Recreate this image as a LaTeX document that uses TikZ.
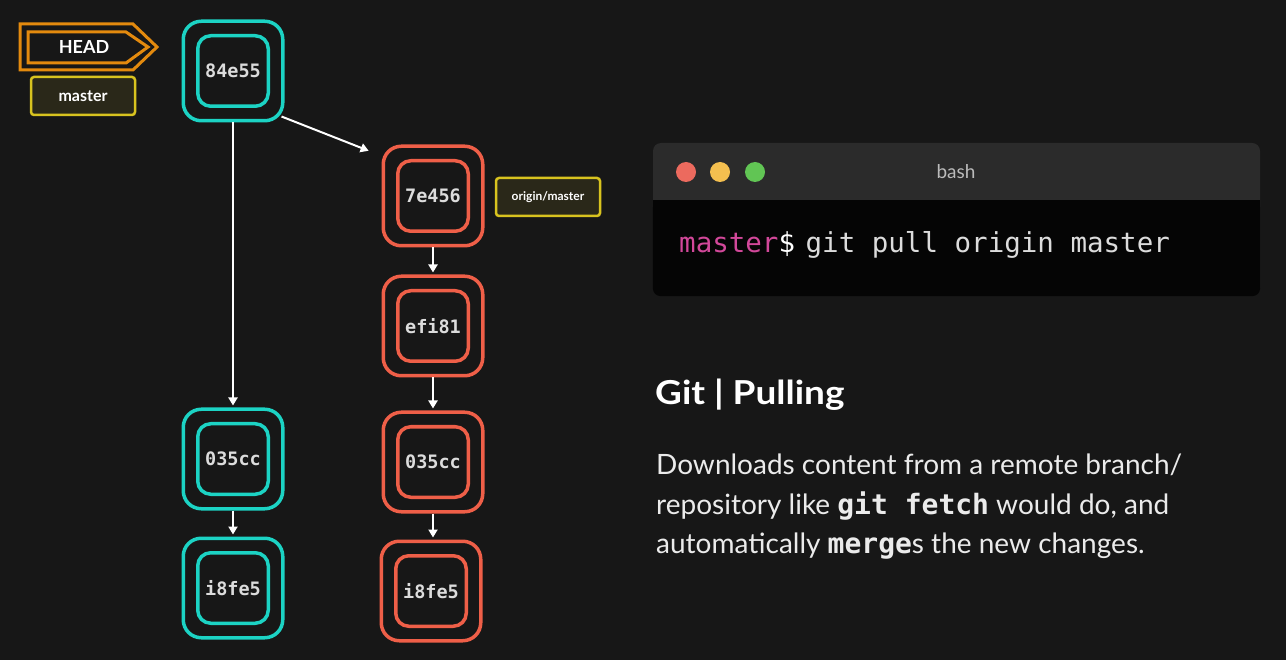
\documentclass[tikz,border=0pt]{standalone}
\usepackage{fontspec}
\usepackage{graphicx}
\setmainfont{Lato}
\setsansfont{Lato}
\setmonofont{DejaVu Sans Mono}
\usetikzlibrary{arrows.meta,calc}
\definecolor{bgc}{HTML}{171717}
\definecolor{cteal}{HTML}{1CD3C4}
\definecolor{cred}{HTML}{EF5F48}
\definecolor{corange}{HTML}{E38A0E}
\definecolor{cyellow}{HTML}{D8C31F}
\definecolor{tagfill}{HTML}{2A2819}
\definecolor{lbl}{HTML}{DCDCDC}
\definecolor{tbar}{HTML}{2B2B2B}
\definecolor{tbody}{HTML}{050505}
\definecolor{cpink}{HTML}{D2489A}
\definecolor{dred}{HTML}{EC6A5E}
\definecolor{dyel}{HTML}{F4BF4F}
\definecolor{dgrn}{HTML}{61C554}
\tikzset{
  outerbox/.style={draw, line width=3.5pt, rounded corners=18pt, minimum width=99.5pt, minimum height=99.5pt, inner sep=0pt, outer sep=1.75pt},
  innerbox/.style={draw, line width=3.5pt, rounded corners=13pt, minimum width=70.5pt, minimum height=70.5pt, inner sep=0pt, text=lbl, font=\ttfamily\bfseries\fontsize{18.5}{18.5}\selectfont},
  arr/.style={draw=white, line width=2pt, -{Triangle[width=9pt,length=8pt]}, shorten >=2pt},
  tag/.style={draw=cyellow, line width=2.5pt, fill=tagfill, rounded corners=3pt, minimum width=104pt, minimum height=38pt, inner sep=0pt, text=white, font=\sffamily\bfseries\fontsize{16}{16}\selectfont},
  dot/.style={circle, minimum size=20pt, inner sep=0pt},
  bodytxt/.style={anchor=base west, inner sep=0pt, text=white!92!black, font=\sffamily\fontsize{28}{28}\selectfont},
}
\newcommand\mkcommit[4]{%
  \node[outerbox, draw=#4] (#1) at (#2) {};
  \node[innerbox, draw=#4] (#1in) at (#2) {#3};
}
\begin{document}
\begin{tikzpicture}[x=1pt,y=-1pt]
\useasboundingbox (0,0) rectangle (1286,660);
\fill[bgc] (0,0) rectangle (1286,660);

% teal commits
\mkcommit{t1}{233,71}{84e55}{cteal}
\mkcommit{t2}{233,459}{035cc}{cteal}
\mkcommit{t3}{233,588}{i8fe5}{cteal}
% red commits
\mkcommit{r1}{433,196}{7e456}{cred}
\mkcommit{r2}{433,326}{efi81}{cred}
\mkcommit{r3}{433,462}{035cc}{cred}
\mkcommit{r4}{431,591}{i8fe5}{cred}

% arrows
\draw[arr] (t1.south) -- (t2.north);
\draw[arr] (t2.south) -- (t3.north);
\draw[arr] (r1.south) -- (r2.north);
\draw[arr] (r2.south) -- (r3.north);
\draw[arr] (r3.south) -- ($(r4.north)+(2,0)$);
\draw[arr] ($(t1.south east)+(-3,-6)$) -- ($(r1.north west)+(-11,7)$);

% HEAD
\node[text=white, font=\sffamily\bfseries\fontsize{18}{18}\selectfont] (head) at (84,47) {HEAD};
\draw[corange, line width=3pt, line join=miter] (20,24) -- (133,24) -- (157,47) -- (133,70) -- (20,70) -- cycle;
\draw[corange, line width=3pt, line join=miter] (28,32) -- (126,32) -- (148,47) -- (126,63) -- (28,63) -- cycle;

% branch tags
\node[tag] (master) at (83,96) {master};
\node[tag, font=\sffamily\bfseries\fontsize{12}{12}\selectfont] (origin) at (548,197) {origin/master};

% terminal
\node[fill=tbar, rounded corners=8pt, minimum width=607pt, minimum height=153pt, inner sep=0pt] (term) at (956.5,219.5) {};
\fill[tbody, rounded corners=8pt] ($(term.south west)+(0,-96)$) rectangle (term.south east);
\fill[tbody] ($(term.south west)+(0,-96)$) rectangle ($(term.south east)+(0,-80)$);
\node[dot, fill=dred] (dr) at (686,172) {};
\node[dot, fill=dyel] (dy) at (720,172) {};
\node[dot, fill=dgrn] (dg) at (755,172) {};
\node[text=lbl!85!black, font=\sffamily\fontsize{19}{19}\selectfont] (bash) at (956,172) {bash};
\node[anchor=base west, inner sep=0pt, font=\ttfamily\fontsize{27.5}{27.5}\selectfont, text=lbl] (cmd) at (679,253)
  {\textcolor{cpink}{master}\textcolor{white}{\$}\hspace{-6pt}\ git pull origin master};

% text
\node[anchor=base west, inner sep=0pt, text=white, font=\sffamily\bfseries\fontsize{33}{33}\selectfont] (title) at (655,405) {\scalebox{1.12}[1]{Git | Pulling}};
\node[bodytxt] (body1) at (656,475) {Downloads content from a remote branch/};
\node[bodytxt] (body2) at (656,514) {repository like {\ttfamily\bfseries git fetch} would do, and};
\node[bodytxt] (body3) at (656,553) {automatically {\ttfamily\bfseries merge}s the new changes.};
\end{tikzpicture}
\end{document}
